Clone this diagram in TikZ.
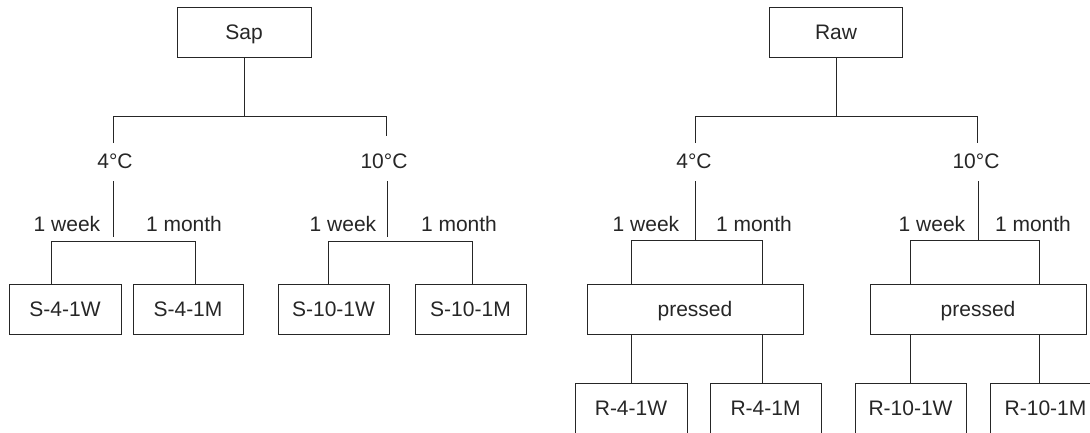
\documentclass[tikz,border=0pt]{standalone}
\usepackage{fontspec}
\setmainfont{Liberation Sans}
\begin{document}
\begin{tikzpicture}[x=1pt,y=-1pt,
  line width=1pt, draw=black!85,
  every node/.style={font=\fontsize{21}{25}\selectfont, text=black!85},
  box/.style={draw, line width=1pt, minimum height=50pt, inner sep=0pt, text height=15pt, text depth=0pt},
  lbl/.style={anchor=base, inner sep=0pt},
  conn/.style={line width=1pt}]
\useasboundingbox (0,0) rectangle (1090,432);
% top boxes
\node[box, minimum width=134pt] (sap) at (244,32) {Sap};
\node[box, minimum width=133pt] (raw) at (836,32) {Raw};
% temperature labels
\node[lbl] (s4) at (115,168) {4°C};
\node[lbl] (s10) at (384,168) {10°C};
\node[lbl] (r4) at (694,168) {4°C};
\node[lbl] (r10) at (976,168) {10°C};
% time labels
\node[lbl] (s4w) at (67,231) {1 week};
\node[lbl] (s4m) at (184,231) {1 month};
\node[lbl] (s10w) at (343,231) {1 week};
\node[lbl] (s10m) at (459,231) {1 month};
\node[lbl] (r4w) at (646,231) {1 week};
\node[lbl] (r4m) at (754,231) {1 month};
\node[lbl] (r10w) at (932,231) {1 week};
\node[lbl] (r10m) at (1033,231) {1 month};
% sample boxes
\node[box, minimum width=112pt] (S4W) at (65,309) {S-4-1W};
\node[box, minimum width=110pt] (S4M) at (188,309) {S-4-1M};
\node[box, minimum width=111pt] (S10W) at (333.5,309) {S-10-1W};
\node[box, minimum width=111pt] (S10M) at (470.5,309) {S-10-1M};
\node[box, minimum width=216pt] (p4) at (695,309) {pressed};
\node[box, minimum width=216pt] (p10) at (978,309) {pressed};
\node[box, minimum width=112pt] (R4W) at (631,408) {R-4-1W};
\node[box, minimum width=111pt] (R4M) at (765.5,408) {R-4-1M};
\node[box, minimum width=111pt] (R10W) at (910.5,408) {R-10-1W};
\node[box, minimum width=111pt] (R10M) at (1045.5,408) {R-10-1M};
% coordinates
\coordinate (sj) at (244,116);
\coordinate (sjl) at (113,116);
\coordinate (sjr) at (386,116);
\coordinate (sle) at (113,143);
\coordinate (sre) at (386,136);
\coordinate (s4t) at (113,181);
\coordinate (s4b) at (113,237);
\coordinate (s4hl) at (51,241);
\coordinate (s4hr) at (195,241);
\coordinate (s10t) at (387,181);
\coordinate (s10b) at (387,237);
\coordinate (s10hl) at (328,241);
\coordinate (s10hr) at (472,241);
\coordinate (rj) at (836,116);
\coordinate (rjl) at (695,116);
\coordinate (rjr) at (977,116);
\coordinate (rle) at (695,143);
\coordinate (rre) at (977,143);
\coordinate (r4t) at (695,181);
\coordinate (r4b) at (695,240);
\coordinate (r4hl) at (631,240);
\coordinate (r4hr) at (762,240);
\coordinate (r10t) at (978,181);
\coordinate (r10b) at (978,240);
\coordinate (r10hl) at (910,240);
\coordinate (r10hr) at (1039,240);
\coordinate (p4l) at (631,334);
\coordinate (p4r) at (762,334);
\coordinate (p10l) at (910,334);
\coordinate (p10r) at (1039,334);
% Sap tree
\draw[conn] (sap.south) -- (sj);
\draw[conn] (sle) -- (sjl) -- (sjr) -- (sre);
\draw[conn] (s4t) -- (s4b);
\draw[conn] (s4hl |- S4W.north) -- (s4hl) -- (s4hr) -- (s4hr |- S4M.north);
\draw[conn] (s10t) -- (s10b);
\draw[conn] (s10hl |- S10W.north) -- (s10hl) -- (s10hr) -- (s10hr |- S10M.north);
% Raw tree
\draw[conn] (raw.south) -- (rj);
\draw[conn] (rle) -- (rjl) -- (rjr) -- (rre);
\draw[conn] (r4t) -- (r4b);
\draw[conn] (r4hl |- p4.north) -- (r4hl) -- (r4hr) -- (r4hr |- p4.north);
\draw[conn] (r10t) -- (r10b);
\draw[conn] (r10hl |- p10.north) -- (r10hl) -- (r10hr) -- (r10hr |- p10.north);
\draw[conn] (p4l) -- (p4l |- R4W.north);
\draw[conn] (p4r) -- (p4r |- R4M.north);
\draw[conn] (p10l) -- (p10l |- R10W.north);
\draw[conn] (p10r) -- (p10r |- R10M.north);
\end{tikzpicture}
\end{document}
